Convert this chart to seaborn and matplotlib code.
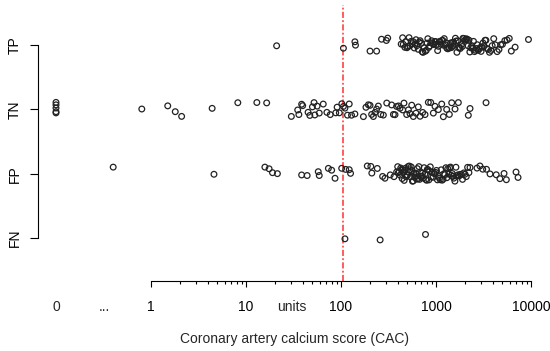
import numpy as np
import pandas as pd
import matplotlib
matplotlib.use("Agg")
import matplotlib.pyplot as plt
import matplotlib.ticker as mticker
import seaborn as sns

# CAC scores, per classification group
tp_vals = [21, 106, 140, 142, 202, 237, 267, 300, 310,
           430, 445, 452, 470, 480, 495, 505, 520, 530, 548, 560, 575, 590, 600,
           615, 630, 650, 665, 680, 700, 715, 730, 750, 770, 790, 805, 820, 840,
           860, 885, 900, 925, 950, 975, 990, 1010, 1040, 1060, 1080, 1100, 1130,
           1150, 1180, 1200, 1220, 1250, 1280, 1300, 1330, 1360, 1390, 1420, 1450,
           1480, 1500, 1530, 1560, 1600, 1630, 1660, 1700, 1740, 1770, 1800, 1850,
           1890, 1920, 1960, 2000, 2050, 2090, 2130, 2180, 2220, 2270, 2320, 2380,
           2420, 2480, 2540, 2600, 2650, 2710, 2780, 2850, 2920, 2980, 3050, 3120,
           3200, 3280, 3350, 3450, 3550, 3650, 3780, 3900, 4050, 4200, 4400, 4600,
           4800, 5000, 5300, 5600, 5900, 6200, 6800, 9400]
tn_vals = [0, 0, 0, 0, 0, 0.8, 1.5, 1.8, 2.1, 4.4, 8.2, 13, 16.5,
           30, 35, 36, 38.5, 39.5, 45, 47, 50, 52, 53, 56, 59, 65, 71, 77, 88, 91,
           96, 102, 106, 110, 117, 122, 129, 140, 172, 183, 194, 202, 210, 219, 228,
           237, 247, 262, 279, 303, 341, 356, 370, 385, 402, 418, 446, 460, 491,
           512, 532, 555, 577, 615, 651, 679, 724, 766, 830, 879, 937, 975, 1058,
           1148, 1194, 1294, 1381, 1462, 1585, 1718, 2188, 2280, 3360]
fp_vals = [0.4, 4.6, 15.8, 17.5, 19, 21.4, 38.5, 44, 57.6, 59, 73.6, 79.7, 86.5,
           101.6, 112, 122, 126, 189, 206, 211, 241, 274, 290, 330, 361,
           385, 395, 400, 410, 418, 425, 432, 440, 448, 455, 462, 470, 478, 485,
           492, 500, 508, 515, 522, 530, 540, 548, 556, 565, 575, 585, 595, 605,
           615, 625, 635, 648, 660, 672, 685, 698, 710, 722, 735, 750, 765, 780,
           795, 810, 825, 840, 855, 870, 890, 910, 930, 950, 970, 990, 1010, 1035,
           1060, 1085, 1110, 1135, 1160, 1185, 1210, 1240, 1270, 1300, 1330, 1360,
           1390, 1420, 1450, 1480, 1510, 1540, 1580, 1620, 1660, 1700, 1750, 1800,
           1850, 1900, 1960, 2020, 2080, 2150, 2220, 2280,
           2700, 2900, 3100, 3400, 3700, 4300, 4700, 5200, 5500, 6950, 7300]
fn_vals = [110, 258, 775]

groups = ["TP", "TN", "FP", "FN"]
threshold = 106
tick_pos = [1, 10, 100, 1000, 10000]
tick_labels = ["1", "10", "100", "1000", "10000"]
extra_pos = [0.1, 0.32, 30]
extra_labels = ["0", "...", "units"]

df = pd.DataFrame({
    "cac": tp_vals + tn_vals + fp_vals + fn_vals,
    "group": (["TP"] * len(tp_vals) + ["TN"] * len(tn_vals)
              + ["FP"] * len(fp_vals) + ["FN"] * len(fn_vals)),
})
# zero scores are shown at the "0" position left of the log axis
df["xpos"] = df["cac"].where(df["cac"] > 0, 0.1)

sns.set_style("ticks")
plt.rcParams["font.family"] = ["Liberation Sans", "DejaVu Sans"]
plt.rcParams["font.size"] = 10

fig = plt.figure(figsize=(5.5, 3.51), dpi=100)
ax = fig.add_axes([45 / 550, 1 - 262 / 351, 500 / 550, 237 / 351])

np.random.seed(3)
sns.stripplot(data=df, x="xpos", y="group", order=groups, jitter=0.12,
              size=4.1, linewidth=0.9, edgecolor="#222222", color="white", ax=ax)
for c in ax.collections:
    c.set_facecolor("none")

ax.set_xscale("log")
ax.set_xlim(0.0766, 14030)
ax.set_ylim(3.373, -0.311)

ax.axvline(threshold, ymin=-0.08, ymax=1.084, color="#ff3030", lw=1.1,
           ls=(0, (4, 1.5, 1.2, 1.5)), clip_on=False)

ax.xaxis.set_major_locator(mticker.FixedLocator(tick_pos))
ax.xaxis.set_major_formatter(mticker.FixedFormatter(tick_labels))
ax.xaxis.set_minor_locator(mticker.FixedLocator(
    [m * 10 ** k for k in range(4) for m in range(2, 10)]))
ax.xaxis.set_minor_formatter(mticker.NullFormatter())

sns.despine(ax=ax)
ax.spines["left"].set_position(("outward", 5))
ax.spines["bottom"].set_position(("outward", 13.7))
ax.spines["left"].set_bounds(0, 3)
ax.spines["bottom"].set_bounds(1, 10000)
for s in ("left", "bottom"):
    ax.spines[s].set_linewidth(0.8)
    ax.spines[s].set_color("black")

ax.tick_params(axis="x", which="major", length=4.3, width=0.8, pad=9.5, colors="black")
ax.tick_params(axis="x", which="minor", length=2.2, width=0.8, colors="black")
ax.tick_params(axis="y", length=5.8, width=0.8, pad=6, colors="black")
for lab in ax.get_yticklabels():
    lab.set_rotation(90)
    lab.set_va("center")

# labels without tick marks, level with the axis tick labels
trans = ax.get_xaxis_transform()
for xp, lab in zip(extra_pos, extra_labels):
    ax.text(xp, -0.161, lab, transform=trans, ha="center", va="top",
            fontsize=10, clip_on=False)

ax.set_ylabel("")
ax.set_xlabel("Coronary artery calcium score (CAC)", labelpad=13)

fig.savefig("out.png", dpi=100)
